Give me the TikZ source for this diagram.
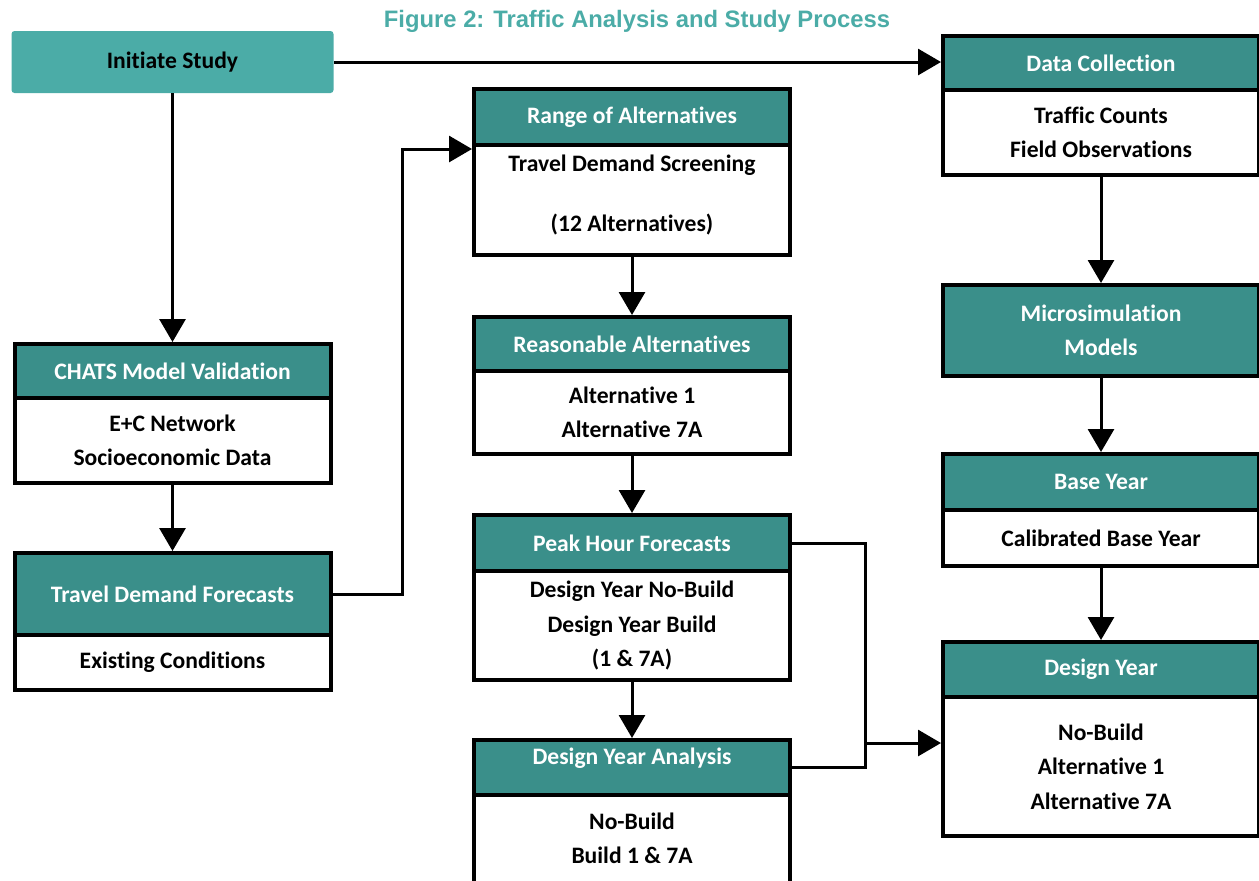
\documentclass[tikz,border=0pt]{standalone}
\usepackage{fontspec}
\setmainfont{Carlito}[Ligatures=NoCommon]
\newfontfamily\titlefont{Liberation Sans}
\usepackage{tikz}
\usetikzlibrary{arrows.meta,positioning}
\definecolor{headteal}{HTML}{3A8F8A}
\definecolor{lightteal}{HTML}{4BACA7}
\tikzset{
    every picture/.style={line join=miter},
    boxfont/.style={font=\fontsize{11.8pt}{17.25pt}\selectfont\bfseries},
    headbox/.style={draw=black,fill=headteal,line width=2pt,
      minimum width=158pt,inner sep=2pt,text=white,boxfont,align=center},
    bodybox/.style={draw=black,fill=white,line width=2pt,
      minimum width=158pt,inner sep=2pt,text=black,boxfont,align=center},
    startbox/.style={fill=lightteal,rounded corners=1.5pt,
      minimum width=161pt,minimum height=31pt,inner sep=2pt,boxfont},
    flowarrow/.style={-{Triangle[length=11.5pt,width=13pt]},draw=black,
      line width=1.5pt},
    linkline/.style={draw=black,line width=1.5pt}
}

\begin{document}
\begin{tikzpicture}[x=0.5pt,y=-0.5pt,node distance=-2pt]
  \useasboundingbox (0,0) rectangle (1259,880);
  \node[font=\titlefont\fontsize{11.9pt}{14pt}\selectfont\bfseries,text=lightteal,anchor=base]
    (title) at (637,27) {Figure 2: Traffic Analysis and Study Process};
  \node[startbox] (init) at (172.5,62) {Initiate Study};

  % left column
  \node[headbox,minimum height=27pt] (chats) at (172.5,371) {CHATS Model Validation};
  \node[bodybox,minimum height=42.5pt,below=of chats] (chatsb) {E+C Network\\Socioeconomic Data};
  \node[headbox,minimum height=41pt] (tdf) at (172.5,594) {Travel Demand Forecasts};
  \node[bodybox,minimum height=27.5pt,below=of tdf] (tdfb) {Existing Conditions};

  % middle column
  \node[headbox,minimum height=28pt] (range) at (632,117) {Range of Alternatives};
  \node[bodybox,minimum height=55pt,text depth=7pt,below=of range] (rangeb)
    {Travel Demand Screening\\[12.75pt](12 Alternatives)};
  \node[headbox,minimum height=27pt] (reason) at (632,344) {Reasonable Alternatives};
  \node[bodybox,minimum height=41.5pt,below=of reason] (reasonb) {Alternative 1\\Alternative 7A};
  \node[headbox,minimum height=28pt] (peak) at (632,543) {Peak Hour Forecasts};
  \node[bodybox,minimum height=54.5pt,below=of peak] (peakb)
    {Design Year No-Build\\Design Year Build\\(1 \& 7A)};
  \node[headbox,minimum height=27.5pt,text depth=11.5pt] (dya) at (632,767.5) {Design Year Analysis};
  \node[bodybox,minimum height=55pt,text depth=12pt,below=of dya] (dyab) {No-Build\\Build 1 \& 7A};

  % right column
  \node[headbox,minimum height=27pt] (data) at (1101,63) {Data Collection};
  \node[bodybox,minimum height=42.5pt,below=of data] (datab) {Traffic Counts\\Field Observations};
  \node[headbox,minimum height=45.5pt] (micro) at (1101,330.5) {Microsimulation\\Models};
  \node[headbox,minimum height=28pt] (base) at (1101,482) {Base Year};
  \node[bodybox,minimum height=28pt,below=of base] (baseb) {Calibrated Base Year};
  \node[headbox,minimum height=27.5pt] (design) at (1101,669.5) {Design Year};
  \node[bodybox,minimum height=69.5pt,below=of design] (designb)
    {No-Build\\Alternative 1\\Alternative 7A};

  \draw[flowarrow] (init.east) -- (init.east -| data.west);
  \draw[flowarrow] (init) -- (chats);
  \draw[flowarrow] (chatsb) -- (tdf);
  \coordinate (bend) at (402,149);
  \draw[flowarrow] (tdf.east) -| (bend) -- (bend -| rangeb.west);
  \draw[flowarrow] (rangeb) -- (reason);
  \draw[flowarrow] (reasonb) -- (peak);
  \draw[flowarrow] (peakb) -- (dya);
  \coordinate (join) at (865,743);
  \draw[linkline] (peak.east) -| (join) |- (dya.east);
  \draw[flowarrow] (join) -- (join -| designb.west);
  \draw[flowarrow] (datab) -- (micro);
  \draw[flowarrow] (micro) -- (base);
  \draw[flowarrow] (baseb) -- (design);
\end{tikzpicture}
\end{document}
